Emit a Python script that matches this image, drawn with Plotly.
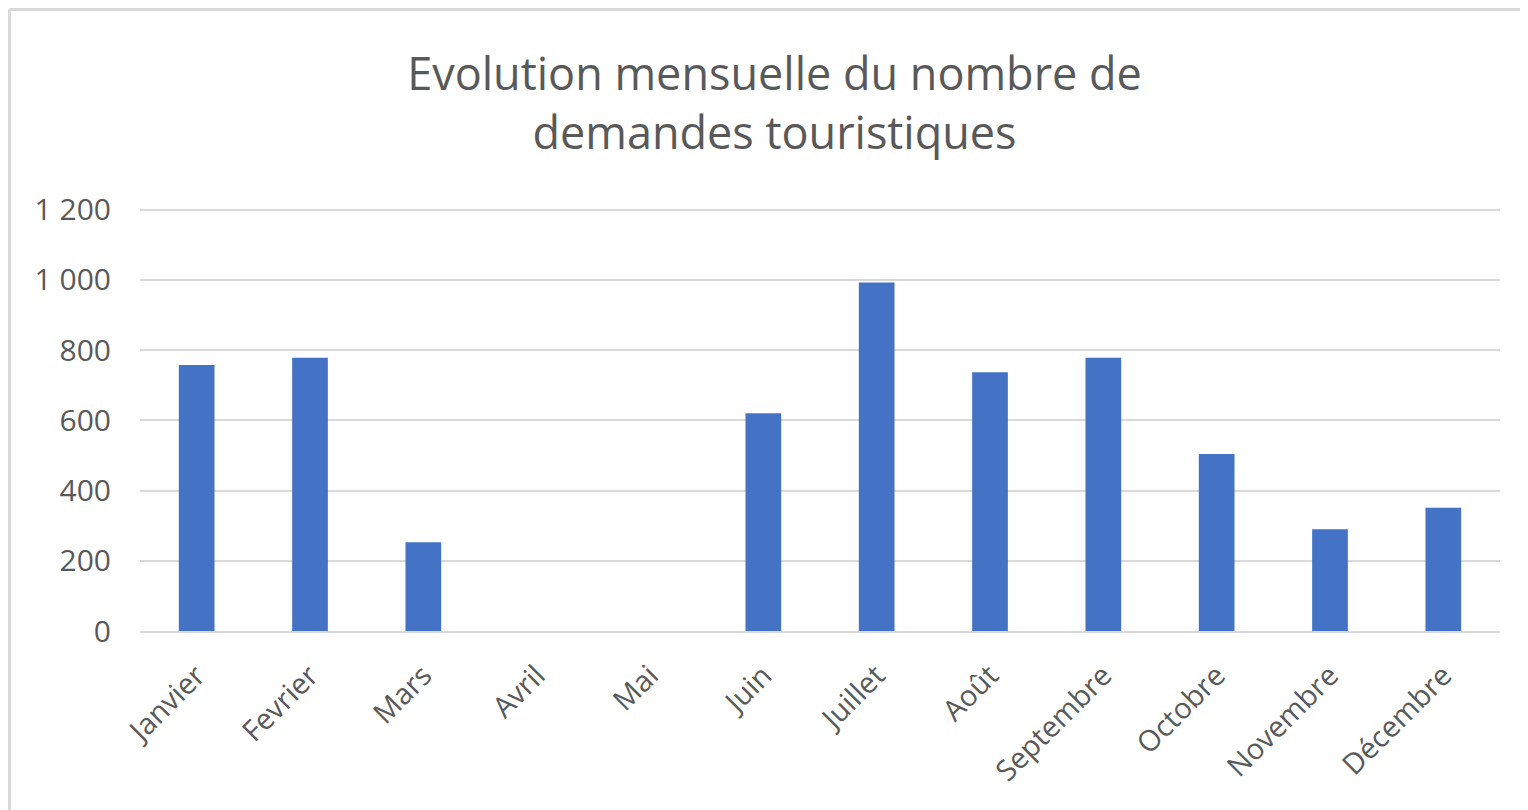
import plotly.graph_objects as go

months = ["Janvier", "Fevrier", "Mars", "Avril", "Mai", "Juin", "Juillet",
          "Août", "Septembre", "Octobre", "Novembre", "Décembre"]
demandes = [757, 778, 253, 0, 0, 620, 992, 737, 778, 504, 290, 351]
y_ticks = [0, 200, 400, 600, 800, 1000, 1200]
y_tick_labels = ["0", "200", "400", "600", "800", "1 000", "1 200"]

# page body has an 8px margin, so the figure is drawn 8px smaller
W, H = 1520, 802
L, R, T, B = 132, 28, 198, 179
pw, ph = W - L - R, H - T - B

def px_x(x):
    return (x - L) / pw

def px_y(y):
    return (H - B - y) / ph

fig = go.Figure(go.Bar(
    x=months, y=demandes,
    marker=dict(color="#4472C4", line=dict(width=0)),
    hoverinfo="x+y",
))

font_family = "Open Sans, Noto Sans, sans-serif"
fig.update_layout(
    width=W, height=H,
    margin=dict(l=L, r=R, t=T, b=B),
    paper_bgcolor="white", plot_bgcolor="white",
    bargap=0.685,
    showlegend=False,
    title=dict(
        text="Evolution mensuelle du nombre de<br>demandes touristiques",
        x=766.5 / W, xanchor="center", xref="container",
        y=1 - 82 / H, yanchor="middle",
        font=dict(family=font_family, size=45, color="#595959"),
    ),
    font=dict(family=font_family, color="#595959"),
    shapes=[
        dict(type="line", xref="paper", yref="paper",
             x0=px_x(1.5), x1=px_x(1540), y0=px_y(1.5), y1=px_y(1.5),
             line=dict(color="#D9D9D9", width=3)),
        dict(type="line", xref="paper", yref="paper",
             x0=px_x(1.5), x1=px_x(1.5), y0=px_y(1.5), y1=px_y(820),
             line=dict(color="#D9D9D9", width=3)),
    ],
)
fig.update_yaxes(
    range=[0, 1210], tickvals=y_ticks, ticktext=y_tick_labels,
    showgrid=True, gridcolor="#D9D9D9", gridwidth=2,
    zeroline=False, showline=False, ticks="",
    ticklabelstandoff=28,
    tickfont=dict(family=font_family, size=30, color="#595959"),
)
fig.update_xaxes(
    showgrid=False, showline=True, linecolor="#D9D9D9", linewidth=2,
    ticks="", tickangle=-45, ticklabelstandoff=14,
    tickfont=dict(family=font_family, size=29, color="#595959"),
)

fig.write_html("out.html")
